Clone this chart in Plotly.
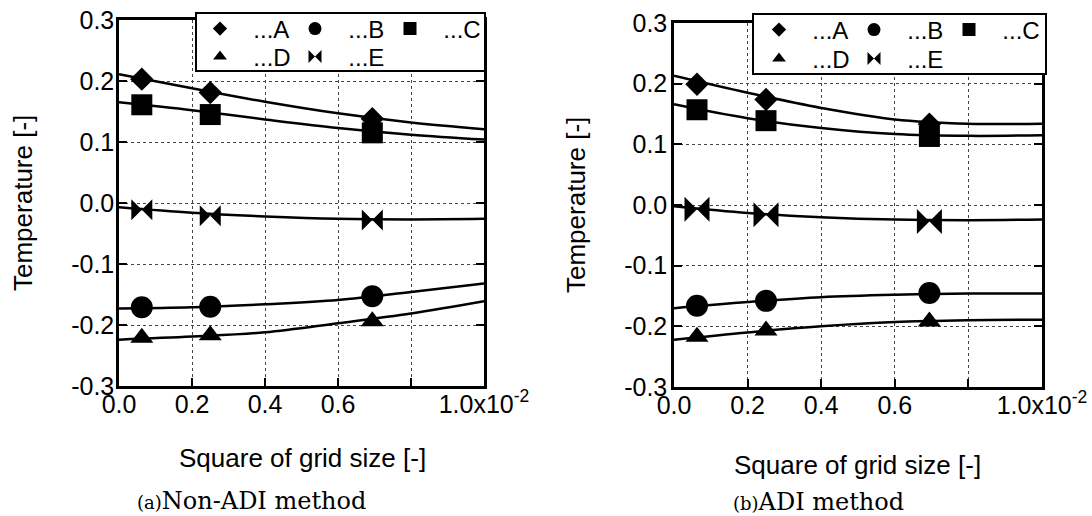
import plotly.graph_objects as go

W, H = 1092, 516

# ---------------- data ----------------
x_points = [0.0625, 0.25, 0.694]          # square of grid size (x10^-2)
x_curve = [0.0, 0.2, 0.4, 0.6, 0.8, 1.0]   # fitted curve read-off positions

series_names = ["A", "B", "C", "D", "E"]

# (a) Non-ADI method
nonadi_points = {
    "A": [0.203, 0.181, 0.138],
    "B": [-0.171, -0.170, -0.153],
    "C": [0.161, 0.145, 0.115],
    "D": [-0.221, -0.217, -0.194],
    "E": [-0.011, -0.021, -0.028],
}
nonadi_curves = {
    "A": [0.211, 0.188, 0.166, 0.147, 0.132, 0.121],
    "B": [-0.173, -0.171, -0.166, -0.159, -0.146, -0.132],
    "C": [0.165, 0.152, 0.137, 0.123, 0.112, 0.104],
    "D": [-0.224, -0.219, -0.212, -0.197, -0.181, -0.161],
    "E": [-0.007, -0.016, -0.022, -0.026, -0.027, -0.026],
}

# (b) ADI method
adi_points = {
    "A": [0.199, 0.174, 0.133],
    "B": [-0.166, -0.158, -0.145],
    "C": [0.157, 0.139, 0.113],
    "D": [-0.217, -0.207, -0.192],
    "E": [-0.007, -0.016, -0.027],
}
adi_curves = {
    "A": [0.213, 0.185, 0.160, 0.141, 0.134, 0.134],
    "B": [-0.170, -0.160, -0.152, -0.148, -0.146, -0.146],
    "C": [0.166, 0.143, 0.127, 0.117, 0.114, 0.115],
    "D": [-0.222, -0.210, -0.200, -0.193, -0.190, -0.189],
    "E": [-0.002, -0.013, -0.020, -0.024, -0.025, -0.024],
}

x_tickvals = [0.0, 0.2, 0.4, 0.6, 1.0]
x_ticktext = ["0.0", "0.2", "0.4", "0.6", "1.0x10<sup>-2</sup>"]
x_unlabeled_ticks = [0.8]
y_tickvals = [-0.3, -0.2, -0.1, 0.0, 0.1, 0.2, 0.3]
y_ticktext = ["-0.3", "-0.2", "-0.1", "0.0", "0.1", "0.2", "0.3"]

# ---------------- styles ----------------
symbols = {"A": "diamond", "B": "circle", "C": "square", "D": "triangle-up", "E": "bowtie"}
sizes_plot = {"A": 18, "B": 22, "C": 21, "D": 20, "E": 21}
sizes_legend = {"A": 11, "B": 13, "C": 13, "D": 12, "E": 13}
SANS = "Liberation Sans, Arial, sans-serif"
SERIF = "DejaVu Serif, Liberation Serif, serif"


def px(x):
    return x / W


def py(y):
    return 1 - y / H


fig = go.Figure()

panels = [
    ("x", "y", nonadi_points, nonadi_curves, ("legend", "legend2"), 21),
    ("x2", "y2", adi_points, adi_curves, ("legend3", "legend4"), 25),
]

for xa, ya, pts, crv, legs, bow in panels:
    for n in series_names:
        fig.add_trace(go.Scatter(
            x=x_curve, y=crv[n], mode="lines", xaxis=xa, yaxis=ya,
            line=dict(color="black", width=2.5, shape="spline", smoothing=1.0),
            showlegend=False, hoverinfo="skip"))
    for n in series_names:
        s = sizes_plot[n] if n != "E" else bow
        fig.add_trace(go.Scatter(
            x=x_points, y=pts[n], mode="markers", xaxis=xa, yaxis=ya,
            marker=dict(symbol=symbols[n], size=s, color="black",
                        line=dict(width=0)),
            showlegend=False, name=n))
    # legend entries (legend-only dummy traces)
    for n in series_names:
        leg = legs[0] if n in ("A", "B", "C") else legs[1]
        fig.add_trace(go.Scatter(
            x=[None], y=[None], mode="markers", xaxis=xa, yaxis=ya,
            marker=dict(symbol=symbols[n], size=sizes_legend[n], color="black"),
            name="  ..." + n, legend=leg, showlegend=True))

axis_common = dict(
    showline=True, linecolor="black", linewidth=2.5,
    ticks="inside", ticklen=8, tickwidth=2, tickcolor="black",
    showgrid=True, gridcolor="#444", gridwidth=1, griddash="dot",
    zeroline=False, automargin=False,
    tickfont=dict(family=SANS, size=25, color="black"),
)
x_minor = dict(tickmode="array", tickvals=x_unlabeled_ticks, ticks="inside",
               ticklen=8, tickwidth=2, tickcolor="black", showgrid=True,
               gridcolor="#444", gridwidth=1, griddash="dot")

fig.update_layout(
    width=W, height=H,
    margin=dict(l=0, r=0, t=0, b=0, pad=0, autoexpand=False),
    paper_bgcolor="white", plot_bgcolor="white",
    font=dict(family=SANS, color="black"),
    xaxis=dict(domain=[px(119), px(484)], range=[0, 1.0], anchor="y",
               tickvals=x_tickvals, ticktext=x_ticktext, mirror=True,
               ticklabelstandoff=-6, minor=x_minor, **axis_common),
    yaxis=dict(domain=[py(386), py(20)], range=[-0.3, 0.3], anchor="x",
               tickvals=y_tickvals, ticktext=y_ticktext, mirror="allticks",
               ticklabelstandoff=-3, **axis_common),
    xaxis2=dict(domain=[px(674), px(1042)], range=[0, 1.0], anchor="y2",
                tickvals=x_tickvals, ticktext=x_ticktext, mirror=True,
                ticklabelstandoff=-6, minor=x_minor, **axis_common),
    yaxis2=dict(domain=[py(387), py(23)], range=[-0.3, 0.3], anchor="x2",
                tickvals=y_tickvals, ticktext=y_ticktext, mirror="allticks",
                ticklabelstandoff=-1, **axis_common),
)

leg_common = dict(orientation="h", bgcolor="rgba(0,0,0,0)", borderwidth=0,
                  font=dict(family=SANS, size=24, color="black"),
                  xref="paper", yref="paper", xanchor="left", yanchor="middle",
                  entrywidthmode="pixels", entrywidth=50, itemclick=False)
fig.update_layout(
    legend=dict(x=px(200), y=py(29), **leg_common),
    legend2=dict(x=px(200), y=py(57), **leg_common),
    legend3=dict(x=px(759), y=py(30), **leg_common),
    legend4=dict(x=px(759), y=py(59), **leg_common),
)

# legend boxes
for x0, x1, y0, y1 in [(196, 485, 13, 71), (753, 1046, 14, 74)]:
    fig.add_shape(type="rect", xref="paper", yref="paper",
                  x0=px(x0), x1=px(x1), y0=py(y1), y1=py(y0),
                  line=dict(color="black", width=2), fillcolor="white", layer="above")

ann = []
# axis titles
for x, y in [(23, 203), (576, 205)]:
    ann.append(dict(text="Temperature [-]", x=px(x), y=py(y), xref="paper", yref="paper",
                    xanchor="center", yanchor="middle",
                    textangle=-90, showarrow=False, font=dict(family=SANS, size=26)))
for x, y in [(302, 458), (857, 465)]:
    ann.append(dict(text="Square of grid size [-]", x=px(x), y=py(y), xref="paper",
                    yref="paper", xanchor="center", yanchor="middle",
                    showarrow=False, font=dict(family=SANS, size=26)))
# captions
for x, y, lab, txt in [(251, 501, "(a)", "Non-ADI method"), (818, 502, "(b)", "ADI method")]:
    ann.append(dict(text="<span style='font-size:18px'>" + lab + "</span>" + txt,
                    x=px(x), y=py(y), xref="paper", yref="paper", showarrow=False,
                    xanchor="center", yanchor="middle",
                    font=dict(family=SERIF, size=24)))
fig.update_layout(annotations=ann)

fig.write_html("out.html")
